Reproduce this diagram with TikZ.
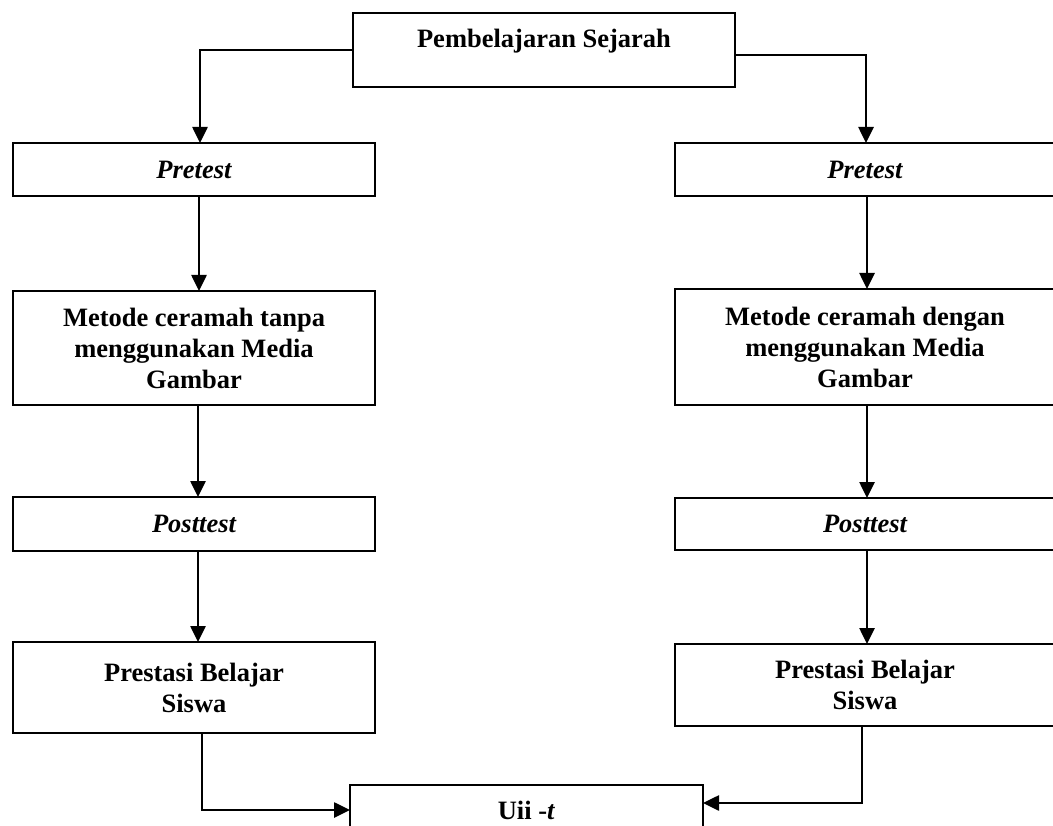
\documentclass[tikz,border=0pt]{standalone}
\usepackage{fontspec}
\setmainfont{Liberation Serif}
\usetikzlibrary{arrows.meta}
\begin{document}
\begin{tikzpicture}[x=1pt,y=-1pt,
  box/.style={draw, line width=2.2pt, inner sep=0pt, outer sep=0pt, anchor=north west,
    align=center, font=\fontsize{26.5pt}{31pt}\selectfont\bfseries},
  arr/.style={line width=2.6pt, -{Triangle[length=16pt,width=15pt]}},
]
\clip (0,0) rectangle (1053,826);
\fill[white] (0,0) rectangle (1053,826);
\node[box, minimum width=382pt, minimum height=74pt, text height=18pt, text depth=22pt] (pb) at (353,13) {Pembelajaran Sejarah};
% left column
\node[box, minimum width=362pt, minimum height=53pt] (lpre) at (13,143) {\itshape Pretest};
\node[box, minimum width=362pt, minimum height=114pt] (lmet) at (13,291) {Metode ceramah tanpa\\menggunakan Media\\Gambar};
\node[box, minimum width=362pt, minimum height=54pt] (lpost) at (13,497) {\itshape Posttest};
\node[box, minimum width=362pt, minimum height=91pt] (lpres) at (13,642) {Prestasi Belajar\\Siswa};
% right column
\node[box, minimum width=380pt, minimum height=53pt] (rpre) at (675,143) {\itshape Pretest};
\node[box, minimum width=380pt, minimum height=116pt] (rmet) at (675,289) {Metode ceramah dengan\\menggunakan Media\\Gambar};
\node[box, minimum width=380pt, minimum height=52pt] (rpost) at (675,498) {\itshape Posttest};
\node[box, minimum width=380pt, minimum height=82pt] (rpres) at (675,644) {Prestasi Belajar\\Siswa};
% bottom
\node[box, minimum width=353pt, minimum height=50pt] (uji) at (350,785) {Uii -\textit{t}};
% connectors
\draw[arr] (pb.west) -| ([xshift=6pt]lpre.north);
\draw[arr] ([yshift=-5pt]pb.east) -| ([xshift=1pt]rpre.north);
\draw[arr] ([xshift=5pt]lpre.south) -- ([xshift=5pt]lmet.north);
\draw[arr] ([xshift=4pt]lmet.south) -- ([xshift=4pt]lpost.north);
\draw[arr] ([xshift=4pt]lpost.south) -- ([xshift=4pt]lpres.north);
\draw[arr] ([xshift=8pt]lpres.south) |- (uji.west);
\draw[arr] ([xshift=2pt]rpre.south) -- ([xshift=2pt]rmet.north);
\draw[arr] ([xshift=2pt]rmet.south) -- ([xshift=2pt]rpost.north);
\draw[arr] ([xshift=2pt]rpost.south) -- ([xshift=2pt]rpres.north);
\draw[arr] ([xshift=-3pt]rpres.south) |- ([yshift=7pt]uji.east);
\end{tikzpicture}
\end{document}
